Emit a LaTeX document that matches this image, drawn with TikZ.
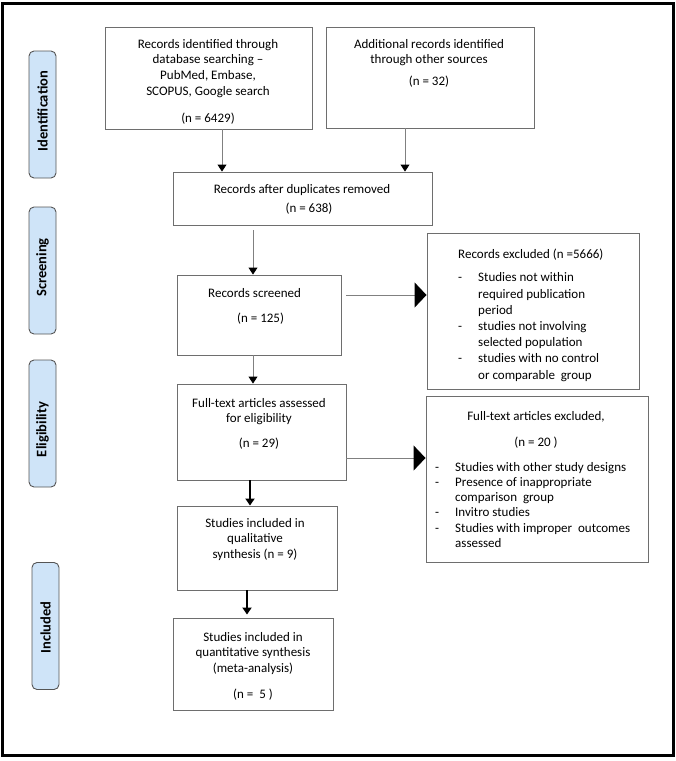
\documentclass[tikz,border=0pt]{standalone}
\usepackage{fontspec}
\setmainfont{Carlito}
\usetikzlibrary{arrows.meta,calc}
\definecolor{boxgray}{HTML}{6E6E6E}
\definecolor{linegray}{HTML}{808080}
\definecolor{sidefill}{HTML}{CFE4F8}
\definecolor{sideedge}{HTML}{555555}
\tikzset{
  pbox/.style={draw=boxgray,line width=0.9pt,rectangle,inner sep=0pt},
  ptext/.style={inner sep=0pt,align=center,font=\fontsize{13}{15.6}\selectfont},
  ltext/.style={inner sep=0pt,align=left,font=\fontsize{13}{16.2}\selectfont},
  side/.style={draw=sideedge,fill=sidefill,line width=0.9pt,rounded corners=5pt,rotate=90,
    minimum width=127pt,minimum height=27pt,inner sep=0pt,font=\fontsize{14.5}{16}\selectfont\bfseries},
  darr/.style={draw=linegray,line width=0.9pt,-{Triangle[length=7pt,width=9pt,fill=black,color=black]}},
  barr/.style={draw=black,line width=1.8pt,-{Triangle[length=7pt,width=9pt]}},
  rarr/.style={draw=linegray,line width=0.9pt,-{Triangle[length=12pt,width=25pt,fill=black,color=black]}},
}
\newcommand{\dashitem}[1]{\makebox[20pt][l]{-}#1}
\newcommand{\contitem}[1]{\hspace*{20pt}#1}
\begin{document}
\begin{tikzpicture}[x=1pt,y=-1pt]
\useasboundingbox (0,0) rectangle (676,761);
\node[draw=black,line width=3pt,minimum width=671pt,minimum height=752.5pt,inner sep=0pt] (frame) at (338,379.25) {};
% side labels
\node[side] (s1) at (42.5,114.5) {\hspace*{7pt}Identification};
\node[side] (s2) at (42.5,270.5) {\hspace*{6pt}Screening};
\node[side] (s3) at (42.5,423.5) {Eligibility\hspace*{12pt}};
\node[side] (s4) at (45.5,626) {Included\hspace*{3pt}};
% boxes
\node[pbox,minimum width=207pt,minimum height=102pt] (b1) at (208.5,78) {};
\node[pbox,minimum width=208pt,minimum height=101pt] (b2) at (430,77.5) {};
\node[pbox,minimum width=259pt,minimum height=53pt] (b3) at (302.5,198.5) {};
\node[pbox,minimum width=164pt,minimum height=80pt] (b4) at (259,315) {};
\node[pbox,minimum width=212pt,minimum height=156pt] (ex1) at (533,311) {};
\node[pbox,minimum width=169pt,minimum height=96pt] (b5) at (261.5,432) {};
\node[pbox,minimum width=222pt,minimum height=166pt] (ex2) at (537,479) {};
\node[pbox,minimum width=160pt,minimum height=84pt] (b6) at (257,548) {};
\node[pbox,minimum width=160pt,minimum height=92pt] (b7) at (253,664) {};
% texts
\node[ptext,anchor=north] (t1) at (208,39) {Records identified through\\database searching –\\PubMed, Embase,\\SCOPUS, Google search\\[12pt](n = 6429)};
\node[ptext,anchor=north] (t2) at (429,39) {Additional records identified\\through other sources\\[6pt](n = 32)};
\node[ptext,anchor=north] (t3) at (302,184) {Records after duplicates removed\\[4pt]\hspace*{14pt}(n = 638)};
\node[ptext,anchor=north west] (t4) at (208,288) {Records screened\\[10pt]\hspace*{12pt}(n = 125)};
\node[ptext,anchor=north] (t5) at (259,398) {Full-text articles assessed\\for eligibility\\[9pt](n = 29)};
\node[ptext,anchor=north] (t6) at (255,518) {Studies included in\\qualitative\\synthesis (n = 9)};
\node[ptext,anchor=north] (t7) at (253,632) {Studies included in\\quantitative synthesis\\(meta-analysis)\\[10pt](n =\ \ 5 )};
\node[ltext,anchor=north west] (t8) at (458,249) {Records excluded (n =5666)\\[7pt]
\dashitem{Studies not within}\\
\contitem{required publication}\\
\contitem{period}\\
\dashitem{studies not involving}\\
\contitem{selected population}\\
\dashitem{studies with no control}\\
\contitem{or comparable\ \ group}};
\node[ptext,anchor=north] (t9) at (536,411) {Full-text articles excluded,\\[11pt](n = 20 )};
\node[ltext,anchor=north west,font=\fontsize{13}{15.2}\selectfont] (t10) at (435,462) {\dashitem{Studies with other study designs}\\
\dashitem{Presence of inappropriate}\\
\contitem{comparison\ \ group}\\
\dashitem{Invitro studies}\\
\dashitem{Studies with improper\ \ outcomes}\\
\contitem{assessed}};
% connectors
\draw[darr] ([xshift=13.5pt]b1.south) -- ([xshift=13.5pt]b1.south |- b3.north);
\draw[darr] ([xshift=-25pt]b2.south) -- ([xshift=-25pt]b2.south |- b3.north);
\draw[darr,shorten <=5pt] ([xshift=-6pt]b4.north |- b3.south) -- ([xshift=-6pt]b4.north);
\draw[darr] ([xshift=-6pt]b4.south) -- ([xshift=-6pt]b4.south |- b5.north);
\draw[rarr,shorten <=5pt] ([yshift=20pt]b4.east) -- ([yshift=20pt]b4.east -| ex1.west);
\draw[rarr] ([yshift=-26pt]b5.east) -- ([yshift=-26pt]b5.east -| ex2.west);
\draw[barr] ([xshift=-11.5pt]b5.south) -- ([xshift=-11.5pt]b5.south |- b6.north);
\draw[barr] ([xshift=-10pt]b6.south) -- ([xshift=-10pt,yshift=3pt]b6.south |- b7.north);
\end{tikzpicture}
\end{document}
